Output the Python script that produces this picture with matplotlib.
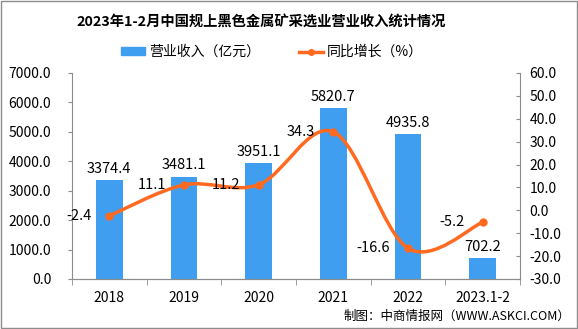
import numpy as np
import matplotlib
matplotlib.use("Agg")
import matplotlib.pyplot as plt
from matplotlib.path import Path
from matplotlib.patches import PathPatch, Rectangle
from matplotlib.lines import Line2D
from matplotlib.patches import Patch

plt.rcParams['font.family'] = ['Noto Sans CJK SC', 'DejaVu Sans']

# data
years = ["2018", "2019", "2020", "2021", "2022", "2023.1-2"]
revenue = [3374.4, 3481.1, 3951.1, 5820.7, 4935.8, 702.2]
growth = [-2.4, 11.1, 11.2, 34.3, -16.6, -5.2]

BLUE = "#3F9EF0"
ORANGE = "#FF6A20"
GREY = "#8C8C8C"

fig = plt.figure(figsize=(5.78, 3.29), dpi=100)
ax = fig.add_axes([72 / 578, 1 - 279 / 329, 448 / 578, 206 / 329])
ax2 = ax.twinx()

x = np.arange(len(years))
ax.bar(x, revenue, width=0.36, color=BLUE, zorder=2)
for xi, v in zip(x, revenue):
    ax.annotate(f"{v:.1f}", (xi, v), xytext=(0, 3), textcoords="offset points",
                ha="center", va="bottom", fontsize=10.5)

ax.set_xlim(-0.5, len(years) - 0.5)
ax.set_ylim(0, 7000)
ax.set_yticks(np.arange(0, 7001, 1000))
ax.set_yticklabels([f"{v:.1f}" for v in np.arange(0, 7001, 1000)])
ax.set_xticks(x)
ax.set_xticklabels(years)
ax.set_xticks(np.arange(-0.5, len(years)), minor=True)
ax.tick_params(axis="x", which="major", length=0, pad=9, labelsize=10)
ax.tick_params(axis="x", which="minor", length=4, color=GREY)
ax.tick_params(axis="y", length=3, color=GREY, pad=12, labelsize=10)

# smoothed growth line (Catmull-Rom as cubic Bezier)
pts = np.column_stack([x, growth]).astype(float)
verts = [tuple(pts[0])]
codes = [Path.MOVETO]
n = len(pts)
for i in range(n - 1):
    p0 = pts[max(i - 1, 0)]
    p1 = pts[i]
    p2 = pts[i + 1]
    p3 = pts[min(i + 2, n - 1)]
    c1 = p1 + (p2 - p0) / 6
    c2 = p2 - (p3 - p1) / 6
    verts += [tuple(c1), tuple(c2), tuple(p2)]
    codes += [Path.CURVE4] * 3
ax2.add_patch(PathPatch(Path(verts, codes), facecolor="none", edgecolor=ORANGE, lw=2.5, zorder=3))
ax2.plot(x, growth, "o", color=ORANGE, markersize=5, zorder=4)
for xi, v in zip(x, growth):
    ax2.annotate(f"{v:.1f}", (xi, v), xytext=(-13, 0), textcoords="offset points",
                 ha="right", va="center", fontsize=10.5)

ax2.set_ylim(-30, 60)
ax2.set_yticks(np.arange(-30, 61, 10))
ax2.set_yticklabels([f"{v:.1f}" for v in np.arange(-30, 61, 10)])
ax2.tick_params(axis="y", direction="in", length=3, color=GREY, pad=7, labelsize=10)

for a in (ax, ax2):
    a.spines["top"].set_visible(False)
    for s in ("left", "right", "bottom"):
        a.spines[s].set_color(GREY)
ax.spines["right"].set_visible(False)
ax2.spines["left"].set_visible(False)

fig.text(261 / 578, 1 - 23 / 329, "2023年1-2月中国规上黑色金属矿采选业营业收入统计情况",
         ha="center", va="center", fontsize=10.3, fontweight="bold")

handles = [Patch(color=BLUE),
           Line2D([0], [0], color=ORANGE, lw=2.5, marker="o", markersize=4)]
fig.legend(handles, ["营业收入（亿元）", "同比增长（%）"], loc="center",
           bbox_to_anchor=(272 / 578, 1 - 52 / 329), ncol=2, frameon=False,
           fontsize=10, handlelength=1.7, handleheight=0.45, columnspacing=2.8,
           handletextpad=0.3)

fig.text(570 / 578, 1 - 316 / 329, "制图：中商情报网（WWW.ASKCI.COM）",
         ha="right", va="center", fontsize=9)

fig.add_artist(Rectangle((0.001, 0.002), 0.997, 0.995, transform=fig.transFigure,
                         fill=False, edgecolor=GREY, lw=1))

fig.savefig("out.png", dpi=100)
